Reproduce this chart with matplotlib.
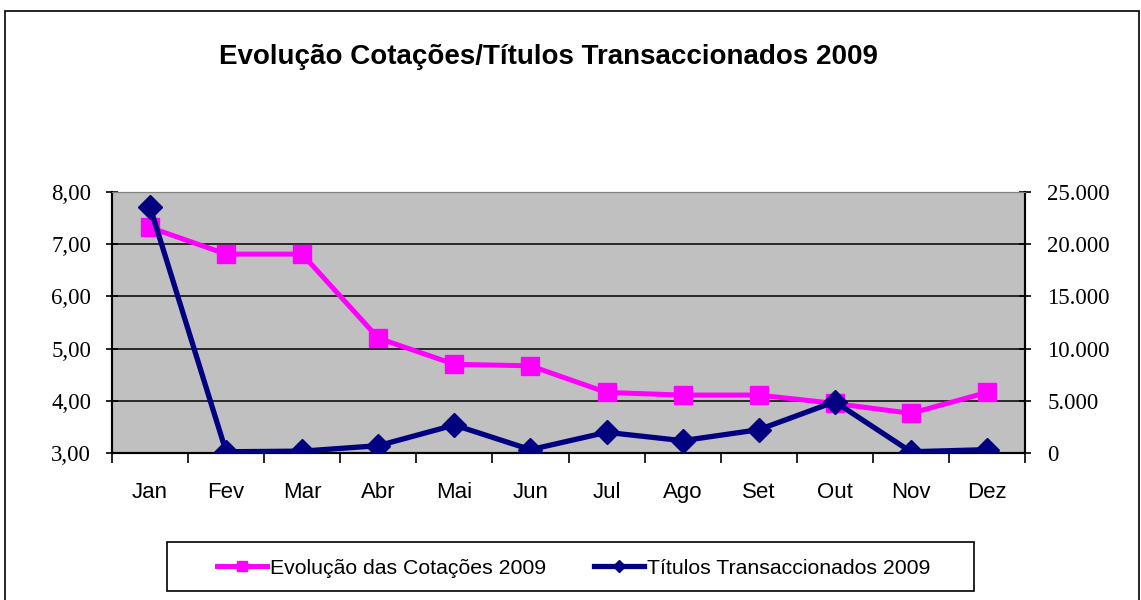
"""
Evolução Cotações / Títulos Transaccionados 2009 - gráfico de duas escalas
"""
import matplotlib
matplotlib.use("Agg")
import matplotlib.pyplot as plt
from matplotlib.patches import Rectangle
from matplotlib.ticker import FuncFormatter, MultipleLocator

# Dados
meses = ["Jan", "Fev", "Mar", "Abr", "Mai", "Jun", "Jul", "Ago", "Set", "Out", "Nov", "Dez"]
cotacoes = [7.32, 6.81, 6.81, 5.20, 4.70, 4.67, 4.16, 4.11, 4.11, 3.95, 3.76, 4.16]
titulos = [23560, 120, 180, 700, 2680, 320, 1980, 1180, 2230, 4910, 120, 320]

titulo = "Evolução Cotações/Títulos Transaccionados 2009"
nome_cotacoes = "Evolução das Cotações 2009"
nome_titulos = "Títulos Transaccionados 2009"

ROSA = "#FF00FF"
AZUL = "#000080"
SERIF = ["Liberation Serif", "DejaVu Serif"]
SANS = ["Liberation Sans", "DejaVu Sans"]
W, H = 1141, 600


def px(x0, y0, x1, y1):
    """Retângulo em pixels (origem no topo) -> coordenadas da figura"""
    return (x0 / W, 1 - y1 / H), (x1 - x0) / W, (y1 - y0) / H


fig = plt.figure(figsize=(W / 100, H / 100), dpi=100)

# Moldura do gráfico
xy, w, h = px(5, 11, 1139, 640)
fig.patches.append(Rectangle(xy, w, h, transform=fig.transFigure, fill=False,
                             edgecolor="black", linewidth=1.2))

ax = fig.add_axes([112 / W, (H - 453) / H, 913 / W, 261 / H])
ax.set_facecolor("#C0C0C0")
x = range(len(meses))

l1, = ax.plot(x, cotacoes, color=ROSA, linewidth=3.6, marker="s", markersize=13,
              label=nome_cotacoes, zorder=3)
ax.set_ylim(3, 8)
ax.set_xlim(-0.5, len(meses) - 0.5)
ax.yaxis.set_major_locator(MultipleLocator(1))
ax.yaxis.set_major_formatter(FuncFormatter(lambda v, p: f"{v:.2f}".replace(".", ",")))
ax.grid(axis="y", color="black", linewidth=1.1)
ax.set_axisbelow(True)

# Eixo x: marcas entre categorias, rótulos centrados
ax.set_xticks([i - 0.5 for i in range(len(meses) + 1)])
ax.set_xticklabels([])
ax.set_xticks(list(x), minor=True)
ax.set_xticklabels(meses, minor=True, fontfamily=SANS, fontsize=16)
ax.tick_params(axis="x", which="minor", length=0, pad=21)
ax.tick_params(axis="x", which="major", length=7, width=1.2, direction="out")
ax.tick_params(axis="y", length=8, width=1.2, direction="inout", labelsize=16.5, pad=11)
for lab in ax.get_yticklabels():
    lab.set_fontfamily(SERIF)

ax2 = ax.twinx()
l2, = ax2.plot(x, titulos, color=AZUL, linewidth=3.8, marker="D", markersize=12,
               label=nome_titulos, zorder=4)
ax2.set_ylim(0, 25000)
ax2.yaxis.set_major_locator(MultipleLocator(5000))
ax2.yaxis.set_major_formatter(FuncFormatter(lambda v, p: f"{int(v):,}".replace(",", ".")))
ax2.tick_params(axis="y", length=8, width=1.2, direction="inout", labelsize=16.5, pad=12)
for lab in ax2.get_yticklabels():
    lab.set_fontfamily(SERIF)

for a in (ax, ax2):
    a.spines["top"].set_color("#808080")
    a.spines["left"].set_linewidth(1.5)
    a.spines["bottom"].set_linewidth(1.5)
    a.spines["right"].set_linewidth(1.5)
ax.set_zorder(ax2.get_zorder() - 1)
ax2.patch.set_visible(False)
ax.patch.set_visible(True)

# Título
fig.text(548 / W, 1 - 57 / H, titulo, ha="center", va="center",
         fontsize=20, fontweight="bold", fontfamily=SANS)

# Legenda (caixa desenhada à parte, como no Excel)
xy, w, h = px(167, 542, 974, 591)
fig.patches.append(Rectangle(xy, w, h, transform=fig.transFigure, fill=False,
                             edgecolor="black", linewidth=1.2))
fig.legend(handles=[l1, l2], loc="center", ncol=2,
           bbox_to_anchor=(574 / W, 1 - 568 / H),
           prop={"family": SANS, "size": 15.3}, frameon=False,
           handlelength=2.35, handletextpad=0.14, columnspacing=2.26,
           markerscale=0.55)

fig.savefig("out.png", dpi=100)
